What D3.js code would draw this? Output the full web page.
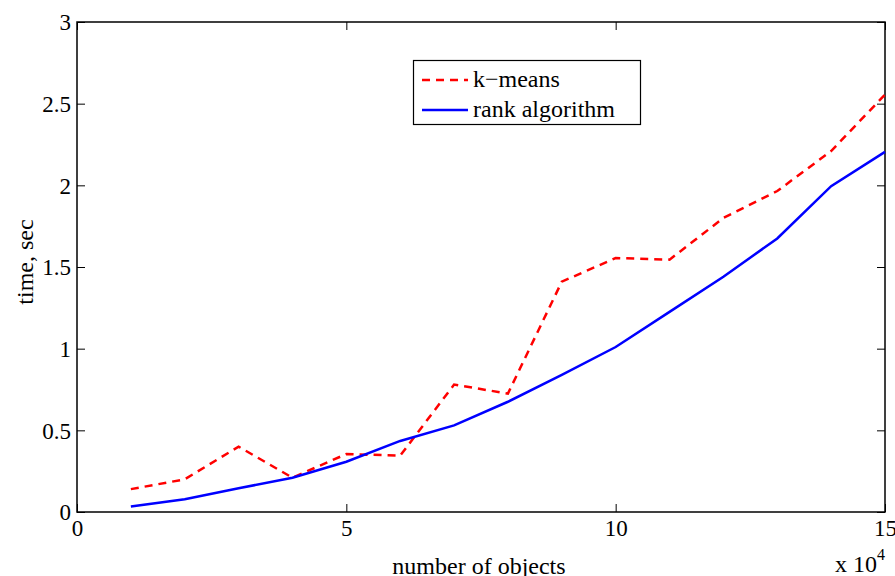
<!DOCTYPE html>
<html><head><meta charset="utf-8">
<script src="https://cdn.jsdelivr.net/npm/d3@7"></script>
<style>body{margin:0;background:#fff}svg{display:block}text{font-family:'Liberation Serif','DejaVu Serif',serif}</style>
</head><body>
<svg id="c" width="895" height="576"></svg>
<script>
const xValues = [1,2,3,4,5,6,7,8,9,10,11,12,13,14,15];
const kmeans = [0.14,0.20,0.40,0.21,0.355,0.345,0.78,0.725,1.41,1.555,1.545,1.80,1.965,2.21,2.555];
const rankAlg = [0.033,0.078,0.145,0.21,0.308,0.435,0.53,0.675,0.84,1.01,1.225,1.44,1.675,1.995,2.205];
const xTicks = [0,5,10,15];
const yTicks = [0,0.5,1,1.5,2,2.5,3];
const seriesNames = ["k\u2212means","rank algorithm"];

const svg = d3.select("#c");
const L=77, R=885, T=22, B=512;
const x = d3.scaleLinear().domain([0,15]).range([L,R]);
const y = d3.scaleLinear().domain([0,3]).range([B,T]);
const FS = 24, TFS = 23;

svg.append("rect").attr("x",L).attr("y",T).attr("width",R-L).attr("height",B-T)
  .attr("fill","none").attr("stroke","#000").attr("stroke-width",1.5);

const tl = 8;
const gxb = svg.append("g").attr("transform",`translate(0,${B})`)
  .call(d3.axisBottom(x).tickValues(xTicks).tickSizeInner(-tl).tickSizeOuter(0).tickFormat(d3.format("d")));
const gxt = svg.append("g").attr("transform",`translate(0,${T})`)
  .call(d3.axisTop(x).tickValues(xTicks).tickSizeInner(-tl).tickSizeOuter(0).tickFormat(""));
const gyl = svg.append("g").attr("transform",`translate(${L},0)`)
  .call(d3.axisLeft(y).tickValues(yTicks).tickSizeInner(-tl).tickSizeOuter(0).tickFormat(d3.format("")));
const gyr = svg.append("g").attr("transform",`translate(${R},0)`)
  .call(d3.axisRight(y).tickValues(yTicks).tickSizeInner(-tl).tickSizeOuter(0).tickFormat(""));
[gxb,gxt,gyl,gyr].forEach(g=>{
  g.select(".domain").remove();
  g.selectAll("line").attr("stroke","#000").attr("stroke-width",1);
  g.selectAll("text").attr("font-size",TFS).attr("fill","#000");
});
gxb.selectAll("text").attr("y",24).attr("dy",0);
gyl.selectAll("text").attr("x",-6).attr("dy","0.34em");

const line = d3.line().x((d,i)=>x(xValues[i])).y(d=>y(d));
svg.append("path").datum(kmeans).attr("d",line).attr("fill","none")
  .attr("stroke","#ff0000").attr("stroke-width",2.5).attr("stroke-dasharray","8,6");
svg.append("path").datum(rankAlg).attr("d",line).attr("fill","none")
  .attr("stroke","#0000ff").attr("stroke-width",2.5);

const lg = svg.append("g");
lg.append("rect").attr("x",413.5).attr("y",60.5).attr("width",227).attr("height",64)
  .attr("fill","#fff").attr("stroke","#000").attr("stroke-width",1.2);
const legY=[80,110], cols=["#ff0000","#0000ff"], dash=["8,6",null];
seriesNames.forEach((n,i)=>{
  lg.append("line").attr("x1",422).attr("x2",468).attr("y1",legY[i]).attr("y2",legY[i])
    .attr("stroke",cols[i]).attr("stroke-width",2.5).attr("stroke-dasharray",dash[i]);
  lg.append("text").attr("x",473).attr("y",legY[i]+7)
    .attr("font-size",FS).text(n);
});

svg.append("text").attr("x",479).attr("y",574).attr("text-anchor","middle")
  .attr("font-size",FS).text("number of objects");
svg.append("text").attr("transform","translate(33,262) rotate(-90)").attr("text-anchor","middle")
  .attr("font-size",FS).text("time, sec");
const ex = svg.append("text").attr("x",835).attr("y",572).attr("font-size",FS);
ex.append("tspan").text("x 10");
ex.append("tspan").attr("font-size",16).attr("dy",-12).text("4");
</script>
</body></html>
